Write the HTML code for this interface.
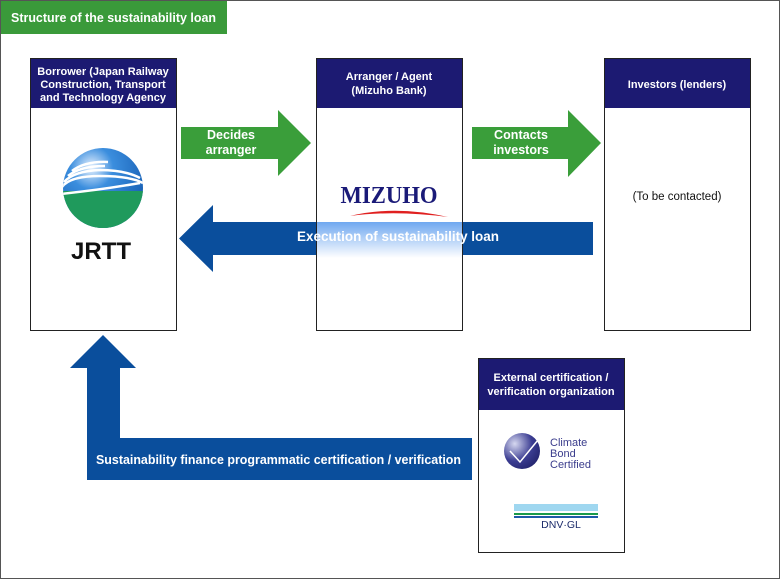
<!DOCTYPE html>
<html><head><meta charset="utf-8"><style>
body{margin:0;background:#fff}
svg{display:block;font-family:"Liberation Sans",Arial,sans-serif;font-weight:bold}
</style></head><body>
<svg width="780" height="579" viewBox="0 0 780 579">
<defs>
<linearGradient id="gl" x1="0" y1="0" x2="0" y2="1"><stop offset="0" stop-color="#6fa8f0"/><stop offset="1" stop-color="#ffffff"/></linearGradient>
<radialGradient id="sph" cx="0.35" cy="0.25" r="0.8"><stop offset="0" stop-color="#e8f2ff"/><stop offset="0.3" stop-color="#3b8ede"/><stop offset="1" stop-color="#0b4fa6"/></radialGradient>
<radialGradient id="cb" cx="0.3" cy="0.3" r="0.8"><stop offset="0" stop-color="#d6d8f0"/><stop offset="0.6" stop-color="#3b3d92"/><stop offset="1" stop-color="#23246e"/></radialGradient>
</defs>
<rect x="0.5" y="0.5" width="779" height="578" fill="#fff" stroke="#555"/>
<rect x="1" y="1" width="226" height="33" fill="#3a9a3a"/>
<text x="11" y="22" fill="#fff" font-size="12.5" textLength="205" lengthAdjust="spacingAndGlyphs">Structure of the sustainability loan</text>

<rect x="30.5" y="58.5" width="146" height="272" fill="#fff" stroke="#222"/>
<rect x="31" y="59" width="145" height="49" fill="#1c1a72"/>
<g fill="#fff" font-size="11" text-anchor="middle">
<text x="103" y="75">Borrower (Japan Railway</text>
<text x="103" y="88">Construction, Transport</text>
<text x="103" y="101">and Technology Agency</text>
</g>
<rect x="316.5" y="58.5" width="146" height="272" fill="#fff" stroke="#222"/>
<rect x="317" y="59" width="145" height="49" fill="#1c1a72"/>
<g fill="#fff" font-size="11" text-anchor="middle">
<text x="389" y="80">Arranger / Agent</text>
<text x="389" y="94">(Mizuho Bank)</text>
</g>
<rect x="604.5" y="58.5" width="146" height="272" fill="#fff" stroke="#222"/>
<rect x="605" y="59" width="145" height="49" fill="#1c1a72"/>
<text x="677" y="88" fill="#fff" font-size="11" text-anchor="middle">Investors (lenders)</text>
<text x="677" y="200" fill="#111" font-size="11.5" font-weight="normal" text-anchor="middle">(To be contacted)</text>

<rect x="478.5" y="358.5" width="146" height="194" fill="#fff" stroke="#222"/>
<rect x="479" y="359" width="145" height="51" fill="#1c1a72"/>
<g fill="#fff" font-size="11" text-anchor="middle">
<text x="551" y="381">External certification /</text>
<text x="551" y="395">verification organization</text>
</g>

<clipPath id="cc"><circle cx="103" cy="188" r="40"/></clipPath>
<g clip-path="url(#cc)">
<rect x="60" y="145" width="90" height="90" fill="url(#sph)"/>
<rect x="60" y="191" width="90" height="45" fill="#1f9a5c"/>
<g fill="none" stroke="#fff" stroke-width="2.5">
<path d="M60 194 Q100 190 140 183"/>
<path d="M62 187 Q70 176 100 176 Q130 176 143 183"/>
<path d="M64 182 Q74 171 100 170 Q125 170 140 178"/>
<path d="M68 176 Q80 166 105 166"/>
<path d="M72 171 Q85 161 108 162"/>
</g>
</g>
<text x="101" y="259" fill="#111" font-size="24" text-anchor="middle">JRTT</text>

<text x="389" y="203" fill="#1a1a78" font-size="24" font-weight="bold" font-family="Liberation Serif,serif" text-anchor="middle" textLength="97" lengthAdjust="spacingAndGlyphs">MIZUHO</text>
<path d="M350 216 Q395 205 448 217 Q395 210 350 216Z" fill="#e02020"/>

<path d="M181 127 H278 V110 L311 143 L278 176 V159 H181Z" fill="#3a9e3a"/>
<g fill="#fff" font-size="12.5" text-anchor="middle"><text x="231" y="139" textLength="48">Decides</text><text x="231" y="154">arranger</text></g>
<path d="M472 127 H568 V110 L601 143 L568 177 V159 H472Z" fill="#3a9e3a"/>
<g fill="#fff" font-size="12.5" text-anchor="middle"><text x="521" y="139" textLength="54">Contacts</text><text x="521" y="154">investors</text></g>

<path d="M593 222 V255 H213 V272 L179 238.5 L213 205 V222Z" fill="#0a4e9c"/>
<rect x="317" y="222" width="145" height="36" fill="url(#gl)"/>
<line x1="316.5" y1="222" x2="316.5" y2="258" stroke="#222"/>
<line x1="462.5" y1="222" x2="462.5" y2="258" stroke="#222"/>
<text x="398" y="241" fill="#fff" font-size="13.5" text-anchor="middle" textLength="202" lengthAdjust="spacingAndGlyphs">Execution of sustainability loan</text>

<path d="M103 335 L136 368 H120 V438 H472 V480 H87 V368 H70Z" fill="#0a4e9c"/>
<text x="278.5" y="464" fill="#fff" font-size="12.5" text-anchor="middle" textLength="365" lengthAdjust="spacingAndGlyphs">Sustainability finance programmatic certification / verification</text>

<circle cx="522" cy="451" r="18" fill="url(#cb)"/>
<path d="M510 451 L520 462 L538 440" fill="none" stroke="#fff" stroke-width="1.5"/>
<g fill="#3a3c8c" font-size="11" font-weight="normal">
<text x="550" y="446">Climate</text><text x="550" y="457">Bond</text><text x="550" y="468">Certified</text>
</g>
<rect x="514" y="504" width="84" height="7" fill="#9fd7f0"/>
<rect x="514" y="513" width="84" height="2" fill="#1a9a4a"/>
<rect x="514" y="516" width="84" height="2" fill="#1d5aa8"/>
<text x="561" y="528" fill="#1a2a6a" font-size="10.5" text-anchor="middle" font-weight="normal">DNV·GL</text>
</svg>
</body></html>
